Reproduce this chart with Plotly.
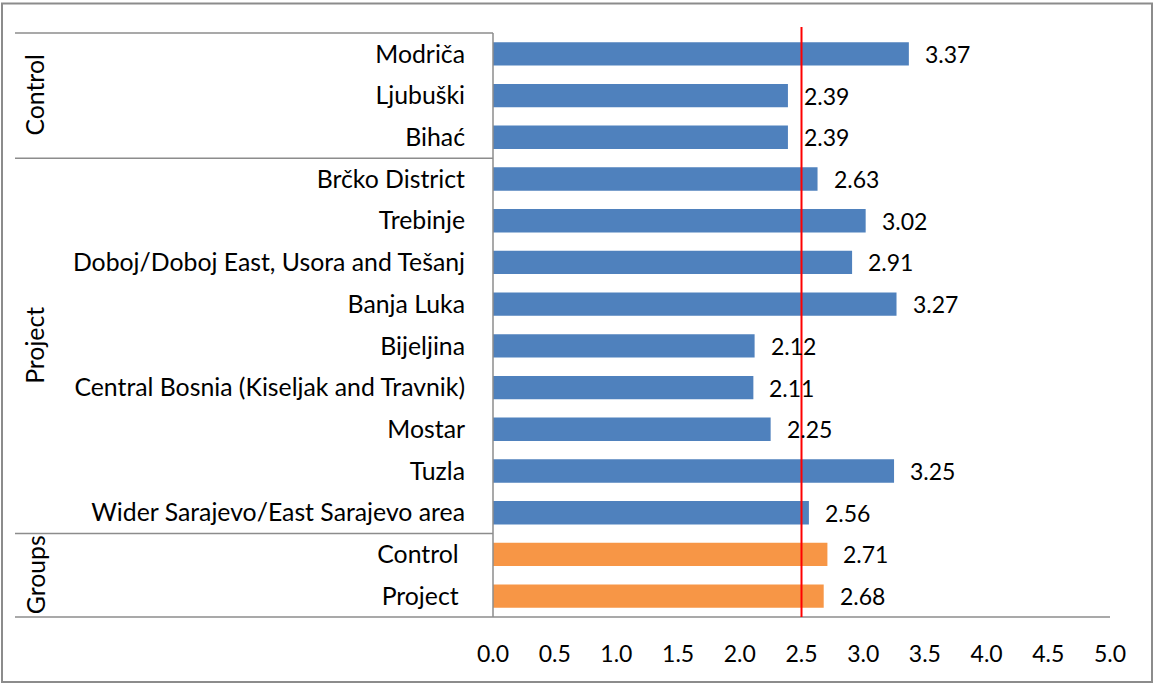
import plotly.graph_objects as go

categories = ["Modriča", "Ljubuški", "Bihać", "Brčko District", "Trebinje",
              "Doboj/Doboj East, Usora and Tešanj", "Banja Luka", "Bijeljina",
              "Central Bosnia (Kiseljak and Travnik)", "Mostar", "Tuzla",
              "Wider Sarajevo/East Sarajevo area", "Control ", "Project "]
values = [3.37, 2.39, 2.39, 2.63, 3.02, 2.91, 3.27, 2.12, 2.11, 2.25, 3.25, 2.56, 2.71, 2.68]
kinds = ["site"] * 12 + ["group"] * 2
group_names = ["Control", "Project", "Groups"]
group_spans = [(0, 2), (3, 11), (12, 13)]
threshold = 2.5

W, H = 1155, 684
L, R, T, B = 493, 1110, 33, 617.5
pw, ph = R - L, B - T

def px(x):
    return (x - L) / pw

def py(y):
    return (B - y) / ph

FONT = "Lato"
LBL = 24.8
NUM = 23
colors = ["#4F81BD" if k == "site" else "#F79646" for k in kinds]

fig = go.Figure()
fig.add_trace(go.Bar(
    x=values, y=categories, orientation="h",
    marker=dict(color=colors, line=dict(width=0)),
    width=0.56, hoverinfo="skip", showlegend=False,
))

annotations = []
for c, v in zip(categories, values):
    annotations.append(dict(x=v, y=c, xref="x", yref="y", text=f"{v:.2f}",
                            showarrow=False, xanchor="left", xshift=14,
                            font=dict(family=FONT, size=NUM, color="black")))

n = len(categories)
for name, (a, b) in zip(group_names, group_spans):
    mid = (a + b) / 2
    ymid = 1 - (mid + 0.5) / n
    annotations.append(dict(x=px(35), y=ymid, xref="paper", yref="paper",
                            text=name, textangle=-90, showarrow=False,
                            xanchor="center", yanchor="middle",
                            font=dict(family=FONT, size=LBL, color="black")))

shapes = []
line_col = "#8C8C8C"
# outer border
shapes.append(dict(type="rect", xref="paper", yref="paper",
                   x0=px(2), x1=px(1152), y0=py(682.5), y1=py(3.5),
                   line=dict(color="#8C8C8C", width=2), layer="below"))
# group separators
for idx in [0, 3, 12]:
    yb = 1 - idx / n
    shapes.append(dict(type="line", xref="paper", yref="paper",
                       x0=px(15), x1=0, y0=yb, y1=yb,
                       line=dict(color=line_col, width=1.5)))
# bottom axis line
shapes.append(dict(type="line", xref="paper", yref="paper",
                   x0=px(15), x1=1, y0=0, y1=0,
                   line=dict(color=line_col, width=1.5)))
# vertical axis line
shapes.append(dict(type="line", xref="paper", yref="paper",
                   x0=0, x1=0, y0=0, y1=1,
                   line=dict(color=line_col, width=1.5)))
# threshold line
shapes.append(dict(type="line", xref="x", yref="paper",
                   x0=threshold, x1=threshold, y0=0, y1=py(27),
                   line=dict(color="#FF0000", width=2), layer="above"))

fig.update_layout(
    width=W, height=H,
    margin=dict(l=L, r=W - R, t=T, b=H - B),
    paper_bgcolor="white", plot_bgcolor="white",
    font=dict(family=FONT, size=LBL, color="black"),
    xaxis=dict(range=[0, 5], dtick=0.5, tick0=0, tickformat=".1f",
               showgrid=False, zeroline=False, showline=False, ticks="",
               ticklabelstandoff=21, tickfont=dict(family=FONT, size=NUM),
               fixedrange=True),
    yaxis=dict(autorange="reversed", showgrid=False, zeroline=False,
               showline=False, ticks="", ticklabelstandoff=27,
               tickfont=dict(family=FONT, size=LBL), fixedrange=True),
    annotations=annotations,
    shapes=shapes,
)

fig.write_html("out.html", config={"displayModeBar": False},
               post_script="document.body.style.margin='0';")
